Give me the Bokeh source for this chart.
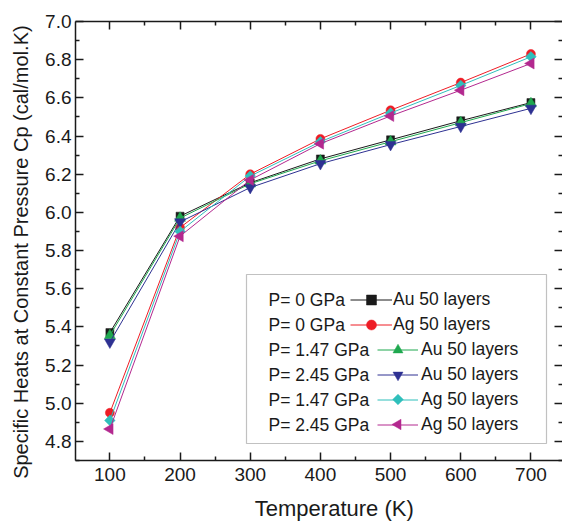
import numpy as np
from bokeh.plotting import figure
from bokeh.models import (Range1d, LinearAxis, Label, BoxAnnotation, Legend,
                          LegendItem, FixedTicker, PrintfTickFormatter)
from bokeh.embed import file_html
from bokeh.resources import INLINE

# ---- data ----
temperature = [100, 200, 300, 400, 500, 600, 700]
au_0 = [5.37, 5.98, 6.155, 6.28, 6.38, 6.48, 6.575]
ag_0 = [4.95, 5.92, 6.20, 6.385, 6.535, 6.68, 6.83]
au_147 = [5.355, 5.97, 6.15, 6.27, 6.37, 6.47, 6.57]
au_245 = [5.32, 5.95, 6.13, 6.255, 6.355, 6.45, 6.545]
ag_147 = [4.91, 5.90, 6.19, 6.37, 6.52, 6.665, 6.815]
ag_245 = [4.865, 5.875, 6.17, 6.36, 6.505, 6.64, 6.78]

pressure_labels = ["P= 0 GPa", "P= 0 GPa", "P= 1.47 GPa", "P= 2.45 GPa", "P= 1.47 GPa", "P= 2.45 GPa"]
material_labels = ["Au 50 layers", "Ag 50 layers", "Au 50 layers", "Au 50 layers", "Ag 50 layers", "Ag 50 layers"]

x_ticks = [100, 200, 300, 400, 500, 600, 700]
x_minor = [50, 150, 250, 350, 450, 550, 650, 750]
y_ticks = [4.8, 5.0, 5.2, 5.4, 5.6, 5.8, 6.0, 6.2, 6.4, 6.6, 6.8, 7.0]
y_minor = [4.7, 4.9, 5.1, 5.3, 5.5, 5.7, 5.9, 6.1, 6.3, 6.5, 6.7, 6.9]

series = [au_0, ag_0, au_147, au_245, ag_147, ag_245]
colors = ["#1a1a1a", "#ee1c25", "#1fa84f", "#2e3192", "#2fbfbb", "#b3288f"]
markers = ["square", "circle", "triangle", "inverted_triangle", "square", "triangle"]
angles = [0, 0, 0, 0, np.pi / 4, np.pi / 2]
sizes = [8, 9, 11, 11, 7.5, 11]

FONT = "Liberation Sans"
TXT = "#1a1a1a"

# layout (pixels)
W, H = 562, 523
FL, FT, FB = 75, 21, 460          # frame left / top / bottom on the page
FR = W                              # frame right
X0, X1 = 51, 745
Y0, Y1 = 4.7, 7.0

p = figure(width=W, height=H, x_range=Range1d(X0, X1), y_range=Range1d(Y0, Y1),
           output_backend="svg", toolbar_location=None,
           x_axis_location=None, y_axis_location=None,
           min_border_left=FL, min_border_right=0, min_border_top=FT,
           min_border_bottom=H - FB)
p.outline_line_color = None
p.xgrid.grid_line_color = None
p.ygrid.grid_line_color = None
p.background_fill_color = "white"
p.border_fill_color = "white"


def style(ax, labels=True, line=True):
    ax.axis_line_width = 1.5
    ax.axis_line_color = TXT
    ax.axis_line_alpha = 1 if line else 0
    ax.major_tick_in = 8
    ax.major_tick_out = 0
    ax.minor_tick_in = 4
    ax.minor_tick_out = 0
    ax.major_tick_line_width = 1.5
    ax.minor_tick_line_width = 1.5
    ax.major_tick_line_color = TXT
    ax.minor_tick_line_color = TXT
    if labels:
        ax.major_label_text_font = FONT
        ax.major_label_text_font_size = "19px"
        ax.major_label_text_color = TXT
    else:
        ax.major_label_text_font_size = "0px"
        ax.major_label_text_color = None
        ax.major_label_standoff = 0


xt = FixedTicker(ticks=x_ticks, minor_ticks=x_minor)
yt = FixedTicker(ticks=y_ticks, minor_ticks=y_minor)

bottom = LinearAxis(ticker=xt, formatter=PrintfTickFormatter(format="%d"))
style(bottom)
bottom.major_label_standoff = 7
bottom.axis_label = "\u00a0" * 5 + "Temperature (K)"
bottom.axis_label_text_font = FONT
bottom.axis_label_text_font_size = "22px"
bottom.axis_label_text_font_style = "normal"
bottom.axis_label_text_color = TXT
bottom.axis_label_standoff = 12

top = LinearAxis(ticker=xt)
style(top, labels=False)

left = LinearAxis(ticker=yt, formatter=PrintfTickFormatter(format="%.1f"))
style(left)
left.major_label_standoff = 4
left.axis_label = "Specific Heats at Constant Pressure Cp (cal/mol.K)" + "\u00a0" * 4
left.axis_label_text_font = FONT
left.axis_label_text_font_size = "20px"
left.axis_label_text_font_style = "normal"
left.axis_label_text_color = TXT
left.axis_label_standoff = 10

right = LinearAxis(ticker=yt)
style(right, labels=False, line=False)

p.add_layout(bottom, "below")
p.add_layout(top, "above")
p.add_layout(left, "left")
p.add_layout(right, "right")

line_renderers = []
marker_renderers = []
for ys, c, m, a, s in zip(series, colors, markers, angles, sizes):
    lr = p.line(temperature, ys, line_color=c, line_width=1)
    mr = p.scatter(temperature, ys, marker=m, angle=a, size=s,
                   fill_color=c, line_color=c, line_width=0.5)
    line_renderers.append(lr)
    marker_renderers.append(mr)

# ---- legend (drawn as in the original: pressure text | line-marker | material text) ----
box = BoxAnnotation(left=171, right=471, bottom=17, top=186,
                    left_units="screen", right_units="screen",
                    top_units="screen", bottom_units="screen",
                    fill_alpha=0, line_color="#333333", line_width=1.2)
p.add_layout(box)

row_centers = [299, 324, 349, 374, 399, 424]     # page y of each legend row
for txt, yc in zip(pressure_labels, row_centers):
    p.add_layout(Label(x=193, y=FB - yc, x_units="screen", y_units="screen", text=txt,
                       text_font=FONT, text_font_size="17.5px", text_color=TXT,
                       text_baseline="middle", text_align="left"))


def make_legend(idx, loc, gw, standoff, with_marker):
    items = []
    for i in idx:
        rs = [line_renderers[i]]
        if with_marker[i]:
            rs.append(marker_renderers[i])
        items.append(LegendItem(label=material_labels[i], renderers=rs))
    return Legend(items=items, location=loc, padding=0, margin=0, spacing=0,
                  glyph_width=gw, glyph_height=25, label_height=25,
                  label_standoff=standoff, border_line_alpha=0,
                  background_fill_alpha=0, label_text_font=FONT,
                  label_text_font_size="17.5px", label_text_color=TXT)


with_marker = [True, True, True, True, False, False]
p.add_layout(make_legend([0, 1], (275, FB - 336.5), 42, 1, with_marker))
p.add_layout(make_legend([2, 3, 4, 5], (302, FB - 436.5), 41, 3, with_marker))

# rotated markers (diamond, left triangle) for the last two legend rows:
# legend glyph centre converted from the layout pixels to data space
frame_w = FR - FL
frame_h = FB - FT


def px_to_x(px):
    return X0 + (px - FL) * (X1 - X0) / frame_w


def py_to_y(py):
    return Y0 + (FB - py) * (Y1 - Y0) / frame_h


glyph_cx = 302 + 41 / 2 + FL
for i, yc in ((4, row_centers[4]), (5, row_centers[5])):
    r = p.scatter([px_to_x(glyph_cx)], [py_to_y(yc)], marker=markers[i], angle=angles[i],
                  size=[7.5, 10.5][i - 4], fill_color=colors[i], line_color=colors[i],
                  line_width=0.5)
    r.level = "overlay"

open("out.html", "w").write(file_html(p, INLINE))
